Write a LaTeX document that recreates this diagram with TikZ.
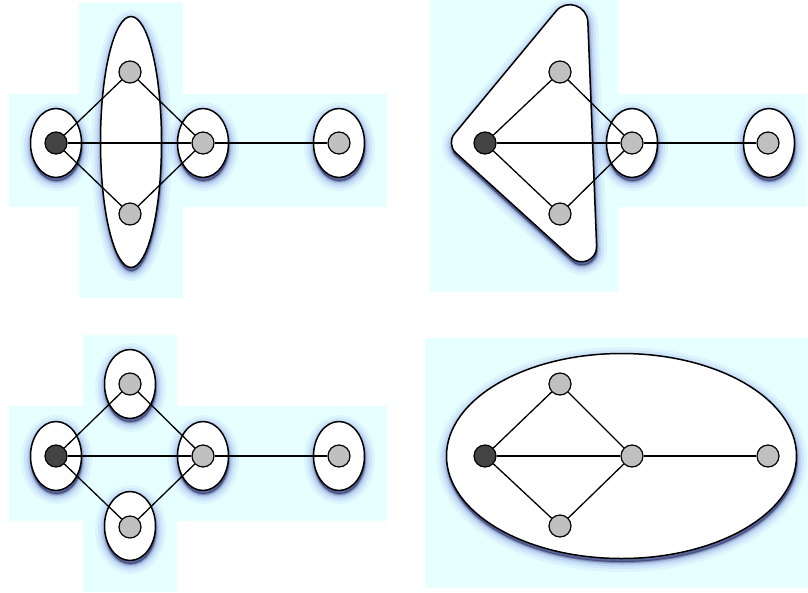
\documentclass[tikz,border=0pt]{standalone}
\usetikzlibrary{shadows,calc,shapes.geometric}
\definecolor{bgc}{RGB}{230,255,255}
\definecolor{shc}{RGB}{60,80,220}
\definecolor{shd}{RGB}{20,22,70}
\definecolor{darkn}{RGB}{68,68,68}
\definecolor{grayn}{RGB}{192,192,192}
\tikzset{
 sh/.style={shadow xshift=0.5pt,shadow yshift=-3.5pt,fill=shc,draw=shc,line join=round},
 glow/.style={
  drop shadow={sh,line width=20pt,opacity=0.06},
  drop shadow={sh,line width=14pt,opacity=0.08},
  drop shadow={sh,line width=9pt,opacity=0.11},
  drop shadow={sh,draw=shd,fill=shd,line width=5pt,opacity=0.14},
  drop shadow={sh,draw=shd,fill=shd,line width=2pt,opacity=0.3}},
 bg/.style={fill=bgc,draw=none},
 hull/.style={draw,fill=white,line width=1.5pt,glow},
 ring/.style={ellipse,hull,minimum width=51pt,minimum height=69pt,inner sep=0pt},
 vx/.style={circle,draw,line width=1.2pt,minimum size=22pt,inner sep=0pt},
 gv/.style={vx,fill=grayn},
 dv/.style={vx,fill=darkn},
 edge/.style={line width=1.3pt}
}
\begin{document}
\begin{tikzpicture}[x=1pt,y=-1pt]
\useasboundingbox (0,0) rectangle (808,592);
% ---------- backgrounds
\fill[bg] (9,94) rectangle (387,207);
\fill[bg] (79,3) rectangle (183,298);
\fill[bg] (430,0) rectangle (618,292);
\fill[bg] (618,94) rectangle (807,207);
\fill[bg] (9,406) rectangle (387,521);
\fill[bg] (83,335) rectangle (177,592);
\fill[bg] (425,338) rectangle (808,588);
% ---------- panel 1
\node[ring] (r1a) at (56,143) {};
\node[ellipse,hull,minimum width=61pt,minimum height=251pt,inner sep=0pt] (r1b) at (131,142) {};
\node[ring] (r1c) at (203,143) {};
\node[ring] (r1d) at (339,143) {};
\node[dv] (a1) at (56,143) {};
\node[gv] (b1) at (130,72) {};
\node[gv] (c1) at (130,214) {};
\node[gv] (d1) at (203,143) {};
\node[gv] (e1) at (339,143) {};
% ---------- panel 2
\coordinate (tL) at (446,144);
\coordinate (tT) at (586,-25);
\coordinate (tB) at (598,282);
\draw[hull] ($(tL)!13.4pt!(tT)$) -- ($(tT)!47pt!(tL)$)
  .. controls ($(tT)!30.5pt!(tL)$) and ($(tT)!30.5pt!(tB)$) .. ($(tT)!47pt!(tB)$)
  -- ($(tB)!35.8pt!(tT)$)
  .. controls ($(tB)!22.5pt!(tT)$) and ($(tB)!22.5pt!(tL)$) .. ($(tB)!35.8pt!(tL)$)
  -- ($(tL)!13.4pt!(tB)$)
  .. controls ($(tL)!5.9pt!(tB)$) and ($(tL)!5.9pt!(tT)$) .. ($(tL)!13.4pt!(tT)$) -- cycle;
\node[ring] (r2c) at (632,143) {};
\node[ring] (r2d) at (769,143) {};
\node[dv] (a2) at (485,143) {};
\node[gv] (b2) at (560,72) {};
\node[gv] (c2) at (560,214) {};
\node[gv] (d2) at (632,143) {};
\node[gv] (e2) at (768,143) {};
% ---------- panel 3
\node[ring] (r3a) at (56,456) {};
\node[ring] (r3b) at (130,384) {};
\node[ring] (r3c) at (130,526) {};
\node[ring] (r3d) at (203,456) {};
\node[ring] (r3e) at (339,456) {};
\node[dv] (a3) at (56,456) {};
\node[gv] (b3) at (130,384) {};
\node[gv] (c3) at (130,527) {};
\node[gv] (d3) at (203,456) {};
\node[gv] (e3) at (339,456) {};
% ---------- panel 4
\node[ellipse,hull,minimum width=350pt,minimum height=205pt,inner sep=0pt] (r4) at (621.5,456) {};
\node[dv] (a4) at (485,456) {};
\node[gv] (b4) at (560,384) {};
\node[gv] (c4) at (560,526) {};
\node[gv] (d4) at (632,456) {};
\node[gv] (e4) at (768,456) {};
% ---------- edges
\foreach \p in {1,2,3,4}{
  \draw[edge] (a\p) -- (b\p);
  \draw[edge] (a\p) -- (c\p);
  \draw[edge] (a\p) -- (d\p);
  \draw[edge] (b\p) -- (d\p);
  \draw[edge] (c\p) -- (d\p);
  \draw[edge] (d\p) -- (e\p);
}
\end{tikzpicture}
\end{document}
